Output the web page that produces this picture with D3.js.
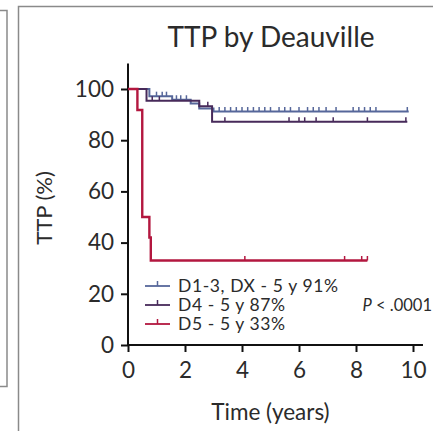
<!DOCTYPE html>
<html>
<head>
<meta charset="utf-8">
<script src="https://cdn.jsdelivr.net/npm/d3@7"></script>
<style>
  html, body { margin: 0; padding: 0; background: #fff; }
  svg { display: block; }
  text { font-family: Lato, "Open Sans", sans-serif; fill: #2b2b2b; }
</style>
</head>
<body>
<svg id="chart" width="433" height="431"></svg>
<script>
// Kaplan–Meier time-to-progression by Deauville score
const seriesNames = ["D1-3, DX - 5 y 91%", "D4 - 5 y 87%", "D5 - 5 y 33%"];
const seriesColors = ["#56679a", "#472a5a", "#b3173f"];

// step points: [time in years, TTP %]
const stepsD13 = [[0, 100], [0.75, 97.2], [1.55, 95.8], [2.2, 94.3], [2.5, 92.4], [3.0, 91.2], [9.85, 91.2]];
const stepsD4  = [[0, 100], [0.65, 95.4], [2.5, 93.3], [2.95, 87.2], [9.8, 87.2]];
const stepsD5  = [[0, 100], [0.33, 91.8], [0.5, 50], [0.75, 42], [0.8, 33], [8.4, 33]];

// censored observations (years)
const censD13 = [1.0, 1.2, 1.35, 1.7, 1.85, 2.05, 3.2, 3.4, 3.6, 3.8, 4.0, 4.2, 4.4, 4.6, 4.8, 5.0, 5.3, 5.5, 5.7,
                 6.0, 6.3, 6.5, 6.7, 6.95, 7.3, 7.9, 8.1, 8.3, 8.5, 8.7, 9.8];
const censD4  = [0.85, 1.1, 2.8, 3.4, 5.65, 6.0, 6.2, 6.6, 7.2, 8.4, 9.75];
const censD5  = [4.1, 7.6, 8.2, 8.4];

const xTicks = [0, 2, 4, 6, 8, 10];
const yTicks = [0, 20, 40, 60, 80, 100];

const series = [
  { name: seriesNames[0], color: seriesColors[0], steps: stepsD13, cens: censD13, width: 2 },
  { name: seriesNames[1], color: seriesColors[1], steps: stepsD4, cens: censD4, width: 2 },
  { name: seriesNames[2], color: seriesColors[2], steps: stepsD5, cens: censD5, width: 2.4 }
];

const svg = d3.select("#chart");

// panel frames
svg.append("rect").attr("x", -20).attr("y", 10.5).attr("width", 27).attr("height", 376)
  .attr("fill", "none").attr("stroke", "#8a8a8a").attr("stroke-width", 1.5);
svg.append("rect").attr("x", 18.5).attr("y", 6.5).attr("width", 440).attr("height", 440)
  .attr("fill", "#fff").attr("stroke", "#8a8a8a").attr("stroke-width", 1.5);

const x = d3.scaleLinear().domain([0, 10]).range([128, 413]);
const y = d3.scaleLinear().domain([0, 100]).range([345, 89]);

// title
svg.append("text").attr("x", 271).attr("y", 47).attr("text-anchor", "middle")
  .style("font-size", "28px").text("TTP by Deauville");

// axes
const axisColor = "#111";
const gy = svg.append("g").attr("transform", `translate(${x(0)},0)`)
  .call(d3.axisLeft(y).tickValues(yTicks).tickSize(7).tickPadding(7).tickSizeOuter(0));
const gx = svg.append("g").attr("transform", `translate(0,${y(0)})`)
  .call(d3.axisBottom(x).tickValues(xTicks).tickSize(7).tickPadding(10).tickSizeOuter(0));
[gx, gy].forEach(g => {
  g.select(".domain").remove();
  g.selectAll(".tick line").attr("stroke", axisColor).attr("stroke-width", 2);
  g.selectAll(".tick text").style("font-size", "22.5px").style("font-family", "Lato, sans-serif").attr("fill", "#2b2b2b");
});
svg.append("line").attr("x1", x(0)).attr("x2", x(0)).attr("y1", y(110)).attr("y2", y(0) + 1)
  .attr("stroke", axisColor).attr("stroke-width", 2);
svg.append("line").attr("x1", x(0) - 1).attr("x2", x(10.35)).attr("y1", y(0)).attr("y2", y(0))
  .attr("stroke", axisColor).attr("stroke-width", 2);

// axis titles
svg.append("text").attr("transform", `translate(43,${(y(0) + y(100)) / 2 - 9}) rotate(-90)`)
  .attr("text-anchor", "middle").attr("dominant-baseline", "central")
  .style("font-size", "22px").text("TTP (%)");
svg.append("text").attr("x", (x(0) + x(10)) / 2).attr("y", 420).attr("text-anchor", "middle")
  .style("font-size", "22.5px").text("Time (years)");

// survival curves
const line = d3.line().x(d => x(d[0])).y(d => y(d[1])).curve(d3.curveStepAfter);
function valueAt(steps, t) {
  let v = steps[0][1];
  for (const s of steps) { if (s[0] <= t) v = s[1]; }
  return v;
}
series.forEach(s => {
  svg.append("path").datum(s.steps).attr("d", line).attr("fill", "none")
    .attr("stroke", s.color).attr("stroke-width", s.width);
  svg.append("g").selectAll("line").data(s.cens).join("line")
    .attr("x1", d => x(d)).attr("x2", d => x(d))
    .attr("y1", d => y(valueAt(s.steps, d))).attr("y2", d => y(valueAt(s.steps, d)) - 4.5)
    .attr("stroke", s.color).attr("stroke-width", 1.5);
});

// legend
const legend = svg.append("g").attr("transform", "translate(145,286)");
series.forEach((s, i) => {
  const g = legend.append("g").attr("transform", `translate(0,${i * 19})`);
  g.append("line").attr("x1", 0).attr("x2", 25).attr("y1", 0).attr("y2", 0)
    .attr("stroke", s.color).attr("stroke-width", 1.8);
  g.append("line").attr("x1", 12.5).attr("x2", 12.5).attr("y1", 0).attr("y2", -5)
    .attr("stroke", s.color).attr("stroke-width", 1.5);
  g.append("text").attr("x", 33).attr("y", 6).style("font-size", "17.5px")
    .style("letter-spacing", "0.6px").text(s.name);
});

const p = svg.append("text").attr("x", 432).attr("y", 311).attr("text-anchor", "end")
  .style("font-size", "16.5px");
p.append("tspan").style("font-style", "italic").text("P");
p.append("tspan").text(" < .0001");
</script>
</body>
</html>
